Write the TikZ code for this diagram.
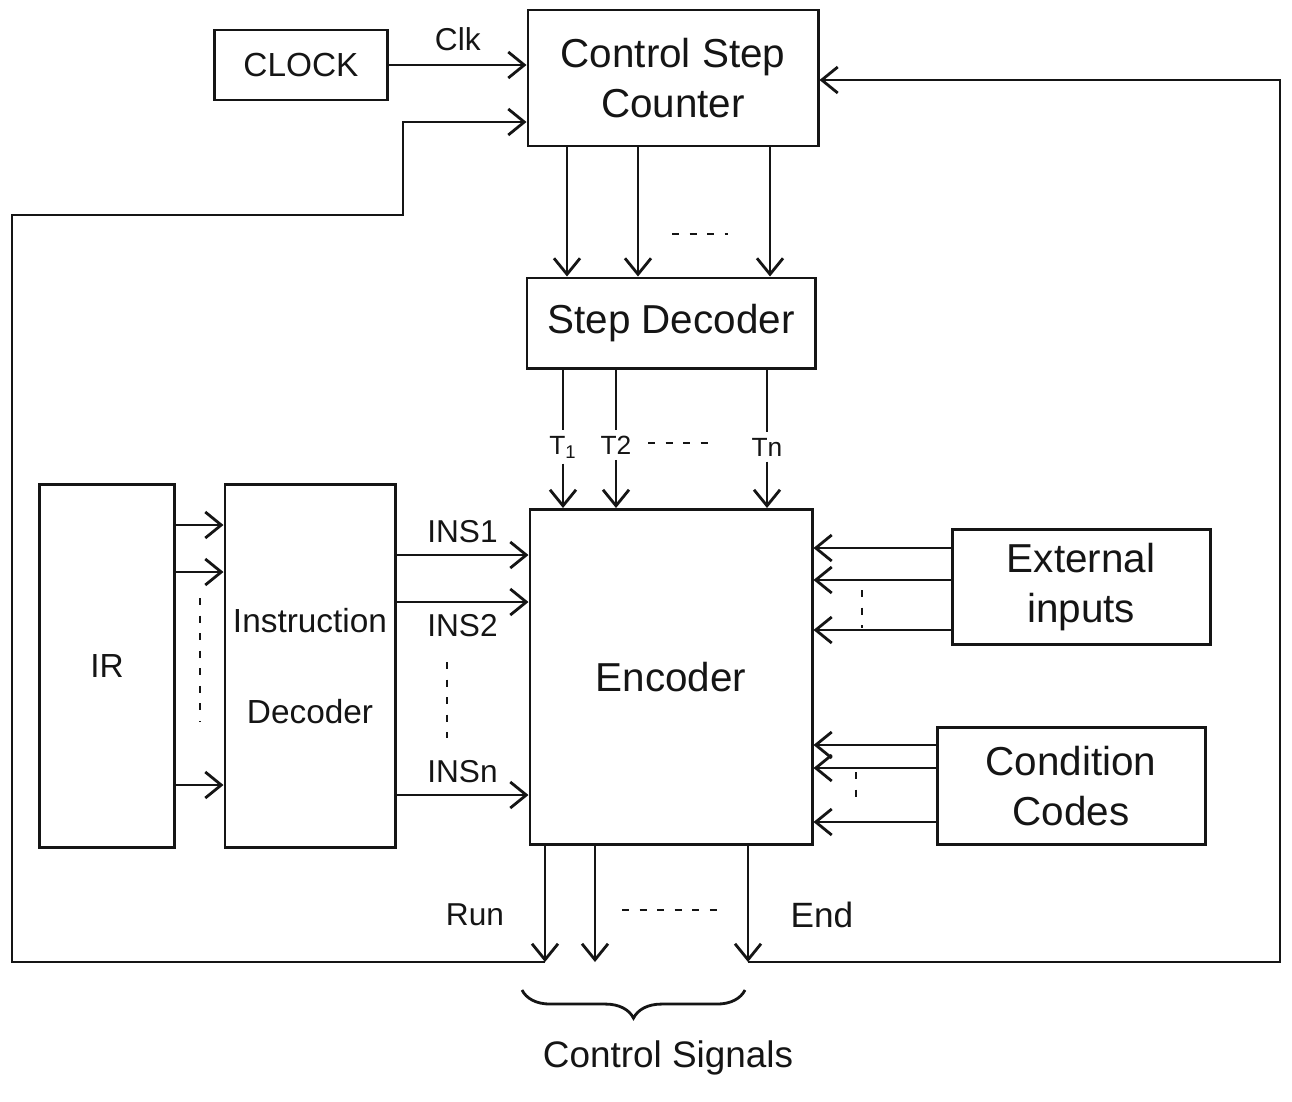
\documentclass[tikz,border=0pt]{standalone}
\usepackage{fontspec}
\setmainfont{Liberation Sans}
\usepackage{tikz}
\usetikzlibrary{arrows.meta,positioning,decorations.pathreplacing}
\definecolor{penink}{HTML}{151515}
\tikzset{
  blk/.style={draw=penink,line width=1.7pt,align=center,inner sep=2pt,text=penink,font=\fontsize{23}{28}\selectfont},
  sblk/.style={blk,font=\fontsize{19}{26}\selectfont},
  wire/.style={draw=penink,line width=1.6pt},
  ar/.style={wire,-{Straight Barb[length=3.2mm,width=5.2mm]}},
  dotsep/.style={draw=penink,line width=1.6pt,dash pattern=on 4pt off 6pt},
  lbl/.style={text=penink,inner sep=3pt,font=\fontsize{18}{22}\selectfont},
}
\begin{document}
\begin{tikzpicture}[x=0.2mm,y=-0.2mm]
  \useasboundingbox (0,0) rectangle (1292,1101);
  % blocks
  \node[sblk,minimum width=34.6mm,minimum height=14mm] (clock) at (301,65) {CLOCK};
  \node[blk,minimum width=58mm,minimum height=27.2mm] (csc) at (673,78) {Control Step\\Counter};
  \node[blk,minimum width=57.6mm,minimum height=18mm] (sdec) at (671,323) {Step Decoder};
  \node[blk,minimum width=56.4mm,minimum height=67mm] (enc) at (671,677) {Encoder};
  \node[sblk,minimum width=27mm,minimum height=72.6mm] (ir) at (107,666) {IR};
  \node[sblk,minimum width=34mm,minimum height=72.6mm] (idec) at (310,666) {Instruction\\[26pt]Decoder};
  \node[blk,minimum width=51.6mm,minimum height=23mm] (extin) at (1081,587) {External\\inputs};
  \node[blk,minimum width=53.6mm,minimum height=23.4mm] (ccodes) at (1071,786) {Condition\\Codes};
  % clock and counter
  \draw[ar] (clock.east) -- (csc.west |- clock.east) node[lbl,midway,above=4pt] {Clk};
  \foreach \x in {567,638,770} \draw[ar] (csc.south -| \x,0) -- (sdec.north -| \x,0);
  \draw[dotsep] (672,234) -- (728,234);
  % timing signals
  \node[lbl,font=\fontsize{15}{18}\selectfont] (t1) at (563,447) {T\textsubscript{1}};
  \node[lbl,font=\fontsize{15}{18}\selectfont] (t2) at (616,445) {T2};
  \node[lbl,font=\fontsize{15}{18}\selectfont] (tn) at (767,447) {Tn};
  \foreach \t in {t1,t2,tn} {
    \draw[wire] (sdec.south -| \t.north) -- (\t.north);
    \draw[ar] (\t.south) -- (enc.north -| \t.south);
  }
  \draw[dotsep] (648,443) -- (712,443);
  % IR and instruction decoder
  \foreach \y in {525,572,785} \draw[ar] (ir.east |- 0,\y) -- (idec.west |- 0,\y);
  \draw[dotsep] (200,598) -- (200,722);
  \draw[ar] (idec.east |- 0,555) -- (enc.west |- 0,555) node[lbl,midway,above=3pt] {INS1};
  \draw[ar] (idec.east |- 0,602) -- (enc.west |- 0,602) node[lbl,midway,below=3pt] {INS2};
  \draw[ar] (idec.east |- 0,795) -- (enc.west |- 0,795) node[lbl,midway,above=3pt] {INSn};
  \draw[dotsep] (447,662) -- (447,738);
  % external inputs and condition codes
  \foreach \y in {548,580,630} \draw[ar] (extin.west |- 0,\y) -- (enc.east |- 0,\y);
  \draw[dotsep] (862,590) -- (862,628);
  \foreach \y in {745,768,822} \draw[ar] (ccodes.west |- 0,\y) -- (enc.east |- 0,\y);
  \draw[dotsep] (856,772) -- (856,805);
  % outputs
  \coordinate (runpt) at (545,962);
  \coordinate (midpt) at (595,962);
  \coordinate (endpt) at (748,962);
  \draw[ar] (enc.south -| runpt) -- (runpt);
  \draw[ar] (enc.south -| midpt) -- (midpt);
  \draw[ar] (enc.south -| endpt) -- (endpt);
  \draw[dotsep] (622,910) -- (722,910);
  \node[lbl] (runlbl) at (475,915) {Run};
  \node[lbl,font=\fontsize{20}{24}\selectfont] (endlbl) at (822,915) {End};
  % feedback loops
  \draw[ar] (runpt) -| (12,215) -| (403,122) -- (csc.west |- 0,122);
  \draw[ar] (endpt) -| (1280,80) -- (csc.east |- 0,80);
  % control signals
  \coordinate (brl) at (522,990);
  \coordinate (brr) at (745,990);
  \draw[wire,decorate,decoration={brace,mirror,amplitude=16pt}] (brl) -- (brr);
  \node[lbl,font=\fontsize{21}{26}\selectfont] (ctrl) at (668,1058) {Control Signals};
\end{tikzpicture}
\end{document}
